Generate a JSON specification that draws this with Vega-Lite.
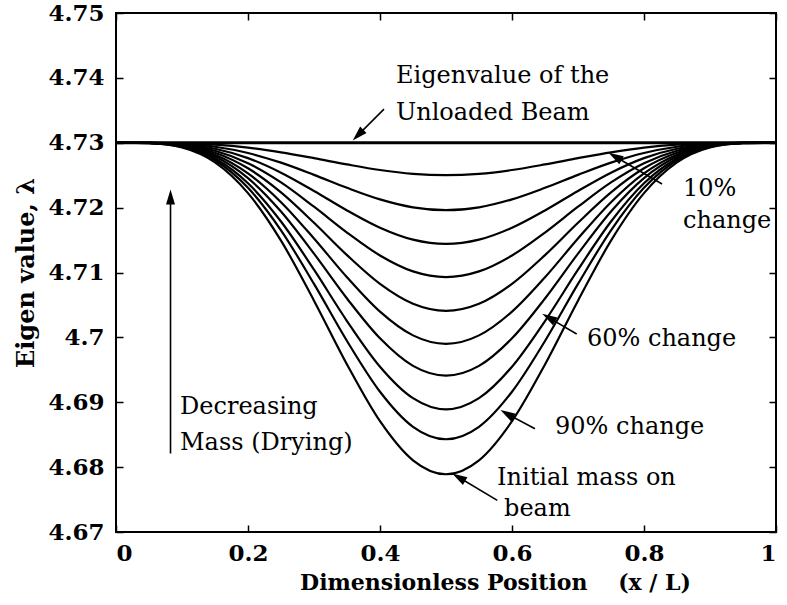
{
  "$schema": "https://vega.github.io/schema/vega-lite/v6.json",
  "width": 660,
  "height": 519,
  "autosize": {"type": "none"},
  "padding": {"left": 116, "top": 13, "right": 11, "bottom": 73},
  "config": {
    "font": "DejaVu Serif",
    "view": {"stroke": "black", "strokeWidth": 2},
    "axis": {"grid": false, "domain": false, "tickColor": "black", "tickWidth": 1.5, "labelColor": "black", "titleColor": "black"}
  },
  "datasets": {
    "curves": [
      {"c":1,"x":0,"y":4.73},{"c":1,"x":0.05,"y":4.72999},{"c":1,"x":0.1,"y":4.72993},{"c":1,"x":0.15,"y":4.7297},{"c":1,"x":0.2,"y":4.72924},{"c":1,"x":0.25,"y":4.72852},{"c":1,"x":0.3,"y":4.72762},{"c":1,"x":0.35,"y":4.72666},{"c":1,"x":0.4,"y":4.7258},{"c":1,"x":0.45,"y":4.72521},{"c":1,"x":0.5,"y":4.725},{"c":1,"x":0.55,"y":4.72521},{"c":1,"x":0.6,"y":4.7258},{"c":1,"x":0.65,"y":4.72666},{"c":1,"x":0.7,"y":4.72762},{"c":1,"x":0.75,"y":4.72852},{"c":1,"x":0.8,"y":4.72924},{"c":1,"x":0.85,"y":4.7297},{"c":1,"x":0.9,"y":4.72993},{"c":1,"x":0.95,"y":4.72999},{"c":1,"x":1,"y":4.73},
      {"c":2,"x":0,"y":4.73},{"c":2,"x":0.05,"y":4.72999},{"c":2,"x":0.1,"y":4.72985},{"c":2,"x":0.15,"y":4.72938},{"c":2,"x":0.2,"y":4.72842},{"c":2,"x":0.25,"y":4.72693},{"c":2,"x":0.3,"y":4.72505},{"c":2,"x":0.35,"y":4.72305},{"c":2,"x":0.4,"y":4.72127},{"c":2,"x":0.45,"y":4.72004},{"c":2,"x":0.5,"y":4.7196},{"c":2,"x":0.55,"y":4.72004},{"c":2,"x":0.6,"y":4.72127},{"c":2,"x":0.65,"y":4.72305},{"c":2,"x":0.7,"y":4.72505},{"c":2,"x":0.75,"y":4.72693},{"c":2,"x":0.8,"y":4.72842},{"c":2,"x":0.85,"y":4.72938},{"c":2,"x":0.9,"y":4.72985},{"c":2,"x":0.95,"y":4.72999},{"c":2,"x":1,"y":4.73},
      {"c":3,"x":0,"y":4.73},{"c":3,"x":0.05,"y":4.72998},{"c":3,"x":0.1,"y":4.72978},{"c":3,"x":0.15,"y":4.72907},{"c":3,"x":0.2,"y":4.72763},{"c":3,"x":0.25,"y":4.72539},{"c":3,"x":0.3,"y":4.72257},{"c":3,"x":0.35,"y":4.71957},{"c":3,"x":0.4,"y":4.7169},{"c":3,"x":0.45,"y":4.71506},{"c":3,"x":0.5,"y":4.7144},{"c":3,"x":0.55,"y":4.71506},{"c":3,"x":0.6,"y":4.7169},{"c":3,"x":0.65,"y":4.71957},{"c":3,"x":0.7,"y":4.72257},{"c":3,"x":0.75,"y":4.72539},{"c":3,"x":0.8,"y":4.72763},{"c":3,"x":0.85,"y":4.72907},{"c":3,"x":0.9,"y":4.72978},{"c":3,"x":0.95,"y":4.72998},{"c":3,"x":1,"y":4.73},
      {"c":4,"x":0,"y":4.73},{"c":4,"x":0.05,"y":4.72998},{"c":4,"x":0.1,"y":4.72971},{"c":4,"x":0.15,"y":4.72877},{"c":4,"x":0.2,"y":4.72685},{"c":4,"x":0.25,"y":4.72389},{"c":4,"x":0.3,"y":4.72014},{"c":4,"x":0.35,"y":4.71616},{"c":4,"x":0.4,"y":4.71262},{"c":4,"x":0.45,"y":4.71017},{"c":4,"x":0.5,"y":4.7093},{"c":4,"x":0.55,"y":4.71017},{"c":4,"x":0.6,"y":4.71262},{"c":4,"x":0.65,"y":4.71616},{"c":4,"x":0.7,"y":4.72014},{"c":4,"x":0.75,"y":4.72389},{"c":4,"x":0.8,"y":4.72685},{"c":4,"x":0.85,"y":4.72877},{"c":4,"x":0.9,"y":4.72971},{"c":4,"x":0.95,"y":4.72998},{"c":4,"x":1,"y":4.73},
      {"c":5,"x":0,"y":4.73},{"c":5,"x":0.05,"y":4.72997},{"c":5,"x":0.1,"y":4.72963},{"c":5,"x":0.15,"y":4.72846},{"c":5,"x":0.2,"y":4.72606},{"c":5,"x":0.25,"y":4.72235},{"c":5,"x":0.3,"y":4.71767},{"c":5,"x":0.35,"y":4.71268},{"c":5,"x":0.4,"y":4.70825},{"c":5,"x":0.45,"y":4.70519},{"c":5,"x":0.5,"y":4.7041},{"c":5,"x":0.55,"y":4.70519},{"c":5,"x":0.6,"y":4.70825},{"c":5,"x":0.65,"y":4.71268},{"c":5,"x":0.7,"y":4.71767},{"c":5,"x":0.75,"y":4.72235},{"c":5,"x":0.8,"y":4.72606},{"c":5,"x":0.85,"y":4.72846},{"c":5,"x":0.9,"y":4.72963},{"c":5,"x":0.95,"y":4.72997},{"c":5,"x":1,"y":4.73},
      {"c":6,"x":0,"y":4.73},{"c":6,"x":0.05,"y":4.72997},{"c":6,"x":0.1,"y":4.72956},{"c":6,"x":0.15,"y":4.72816},{"c":6,"x":0.2,"y":4.72528},{"c":6,"x":0.25,"y":4.72084},{"c":6,"x":0.3,"y":4.71524},{"c":6,"x":0.35,"y":4.70927},{"c":6,"x":0.4,"y":4.70397},{"c":6,"x":0.45,"y":4.70031},{"c":6,"x":0.5,"y":4.699},{"c":6,"x":0.55,"y":4.70031},{"c":6,"x":0.6,"y":4.70397},{"c":6,"x":0.65,"y":4.70927},{"c":6,"x":0.7,"y":4.71524},{"c":6,"x":0.75,"y":4.72084},{"c":6,"x":0.8,"y":4.72528},{"c":6,"x":0.85,"y":4.72816},{"c":6,"x":0.9,"y":4.72956},{"c":6,"x":0.95,"y":4.72997},{"c":6,"x":1,"y":4.73},
      {"c":7,"x":0,"y":4.73},{"c":7,"x":0.05,"y":4.72996},{"c":7,"x":0.1,"y":4.72949},{"c":7,"x":0.15,"y":4.72787},{"c":7,"x":0.2,"y":4.72454},{"c":7,"x":0.25,"y":4.7194},{"c":7,"x":0.3,"y":4.7129},{"c":7,"x":0.35,"y":4.70599},{"c":7,"x":0.4,"y":4.69985},{"c":7,"x":0.45,"y":4.69561},{"c":7,"x":0.5,"y":4.6941},{"c":7,"x":0.55,"y":4.69561},{"c":7,"x":0.6,"y":4.69985},{"c":7,"x":0.65,"y":4.70599},{"c":7,"x":0.7,"y":4.7129},{"c":7,"x":0.75,"y":4.7194},{"c":7,"x":0.8,"y":4.72454},{"c":7,"x":0.85,"y":4.72787},{"c":7,"x":0.9,"y":4.72949},{"c":7,"x":0.95,"y":4.72996},{"c":7,"x":1,"y":4.73},
      {"c":8,"x":0,"y":4.73},{"c":8,"x":0.05,"y":4.72996},{"c":8,"x":0.1,"y":4.72942},{"c":8,"x":0.15,"y":4.72756},{"c":8,"x":0.2,"y":4.72375},{"c":8,"x":0.25,"y":4.71786},{"c":8,"x":0.3,"y":4.71043},{"c":8,"x":0.35,"y":4.70252},{"c":8,"x":0.4,"y":4.69548},{"c":8,"x":0.45,"y":4.69063},{"c":8,"x":0.5,"y":4.6889},{"c":8,"x":0.55,"y":4.69063},{"c":8,"x":0.6,"y":4.69548},{"c":8,"x":0.65,"y":4.70252},{"c":8,"x":0.7,"y":4.71043},{"c":8,"x":0.75,"y":4.71786},{"c":8,"x":0.8,"y":4.72375},{"c":8,"x":0.85,"y":4.72756},{"c":8,"x":0.9,"y":4.72942},{"c":8,"x":0.95,"y":4.72996},{"c":8,"x":1,"y":4.73},
      {"c":9,"x":0,"y":4.73},{"c":9,"x":0.05,"y":4.72995},{"c":9,"x":0.1,"y":4.72935},{"c":9,"x":0.15,"y":4.7273},{"c":9,"x":0.2,"y":4.72305},{"c":9,"x":0.25,"y":4.7165},{"c":9,"x":0.3,"y":4.70824},{"c":9,"x":0.35,"y":4.69944},{"c":9,"x":0.4,"y":4.69162},{"c":9,"x":0.45,"y":4.68622},{"c":9,"x":0.5,"y":4.6843},{"c":9,"x":0.55,"y":4.68622},{"c":9,"x":0.6,"y":4.69162},{"c":9,"x":0.65,"y":4.69944},{"c":9,"x":0.7,"y":4.70824},{"c":9,"x":0.75,"y":4.7165},{"c":9,"x":0.8,"y":4.72305},{"c":9,"x":0.85,"y":4.7273},{"c":9,"x":0.9,"y":4.72935},{"c":9,"x":0.95,"y":4.72995},{"c":9,"x":1,"y":4.73},
      {"c":10,"x":0,"y":4.73},{"c":10,"x":0.05,"y":4.72995},{"c":10,"x":0.1,"y":4.72928},{"c":10,"x":0.15,"y":4.72697},{"c":10,"x":0.2,"y":4.72223},{"c":10,"x":0.25,"y":4.71491},{"c":10,"x":0.3,"y":4.70566},{"c":10,"x":0.35,"y":4.69583},{"c":10,"x":0.4,"y":4.68708},{"c":10,"x":0.45,"y":4.68105},{"c":10,"x":0.5,"y":4.6789},{"c":10,"x":0.55,"y":4.68105},{"c":10,"x":0.6,"y":4.68708},{"c":10,"x":0.65,"y":4.69583},{"c":10,"x":0.7,"y":4.70566},{"c":10,"x":0.75,"y":4.71491},{"c":10,"x":0.8,"y":4.72223},{"c":10,"x":0.85,"y":4.72697},{"c":10,"x":0.9,"y":4.72928},{"c":10,"x":0.95,"y":4.72995},{"c":10,"x":1,"y":4.73}
    ],
    "unloaded": [{"x": 0, "y": 4.73}, {"x": 1, "y": 4.73}],
    "labels": [
      {"t": "Eigenvalue of the", "x": 0.4242, "y": 4.73918},
      {"t": "Unloaded Beam", "x": 0.4242, "y": 4.73349},
      {"t": "10%", "x": 0.8591, "y": 4.7218},
      {"t": "change", "x": 0.8591, "y": 4.71692},
      {"t": "60% change", "x": 0.7136, "y": 4.69872},
      {"t": "90% change", "x": 0.6652, "y": 4.68514},
      {"t": "Initial mass on", "x": 0.5773, "y": 4.67718},
      {"t": "beam", "x": 0.5879, "y": 4.67242},
      {"t": "Decreasing", "x": 0.097, "y": 4.68826},
      {"t": "Mass (Drying)", "x": 0.097, "y": 4.68257}
    ],
    "arrows": [
      {"g": "a", "x": 0.4061, "y": 4.73518, "x2": 0.3667, "y2": 4.73118},
      {"g": "b", "x": 0.8273, "y": 4.72365, "x2": 0.7561, "y2": 4.72788},
      {"g": "b", "x": 0.698, "y": 4.70052, "x2": 0.6556, "y2": 4.70305},
      {"g": "b", "x": 0.6348, "y": 4.68591, "x2": 0.5923, "y2": 4.68822},
      {"g": "b", "x": 0.5777, "y": 4.67488, "x2": 0.5192, "y2": 4.67843},
      {"g": "c", "x": 0.0826, "y": 4.68211, "x2": 0.0826, "y2": 4.72165}
    ]
  },
  "resolve": {"axis": {"x": "independent", "y": "independent"}},
  "layer": [
    {
      "data": {"name": "curves"},
      "mark": {"type": "line", "color": "black", "strokeWidth": 2.2, "interpolate": "monotone"},
      "encoding": {
        "x": {"field": "x", "type": "quantitative", "scale": {"domain": [0, 1], "nice": false, "zero": false},
          "axis": {"orient": "bottom", "values": [0, 0.2, 0.4, 0.6, 0.8, 1], "format": "~g", "tickSize": -7, "labelPadding": 17, "labelDx": 4,
            "labelFontWeight": "bold", "labelFontSize": 23,
            "title": "Dimensionless Position\u00a0\u00a0\u00a0\u00a0(x / L)", "titleFontWeight": "bold", "titleFontSize": 22,
            "titleX": 379, "titleY": 57, "titleBaseline": "alphabetic", "titleAlign": "center"}},
        "y": {"field": "y", "type": "quantitative", "scale": {"domain": [4.67, 4.75], "nice": false, "zero": false},
          "axis": {"orient": "left", "values": [4.67, 4.68, 4.69, 4.7, 4.71, 4.72, 4.73, 4.74, 4.75], "format": ".3~r", "tickSize": -7, "labelPadding": 19,
            "labelFontWeight": "bold", "labelFontSize": 23,
            "title": "Eigen value, λ", "titleFontWeight": "bold", "titleFontSize": 24,
            "titleX": -83, "titleY": 259.5, "titleBaseline": "alphabetic", "titleAlign": "center", "titleAngle": -90}},
        "detail": {"field": "c", "type": "nominal"}
      }
    },
    {
      "data": {"name": "unloaded"},
      "mark": {"type": "line", "color": "black", "strokeWidth": 3},
      "encoding": {
        "x": {"field": "x", "type": "quantitative", "axis": {"orient": "top", "values": [0, 0.2, 0.4, 0.6, 0.8, 1], "labels": false, "tickSize": -7, "title": null}},
        "y": {"field": "y", "type": "quantitative", "axis": {"orient": "right", "values": [4.67, 4.68, 4.69, 4.7, 4.71, 4.72, 4.73, 4.74, 4.75], "labels": false, "tickSize": -7, "title": null}}
      }
    },
    {
      "data": {"name": "arrows"},
      "mark": {"type": "rule", "color": "black", "strokeWidth": 1.6},
      "encoding": {
        "x": {"field": "x", "type": "quantitative", "axis": null},
        "y": {"field": "y", "type": "quantitative", "axis": null},
        "x2": {"field": "x2"},
        "y2": {"field": "y2"}
      }
    },
    {
      "data": {"name": "arrows"},
      "transform": [{"filter": "datum.g === 'a'"}],
      "mark": {"type": "point", "shape": "M0,-1L0.6,1L-0.6,1Z", "filled": true, "color": "black", "opacity": 1, "size": 225, "angle": 225},
      "encoding": {"x": {"field": "x2", "type": "quantitative", "axis": null}, "y": {"field": "y2", "type": "quantitative", "axis": null}}
    },
    {
      "data": {"name": "arrows"},
      "transform": [{"filter": "datum.g === 'b'"}],
      "mark": {"type": "point", "shape": "M0,-1L0.6,1L-0.6,1Z", "filled": true, "color": "black", "opacity": 1, "size": 225, "angle": 300},
      "encoding": {"x": {"field": "x2", "type": "quantitative", "axis": null}, "y": {"field": "y2", "type": "quantitative", "axis": null}}
    },
    {
      "data": {"name": "arrows"},
      "transform": [{"filter": "datum.g === 'c'"}],
      "mark": {"type": "point", "shape": "M0,-1L0.6,1L-0.6,1Z", "filled": true, "color": "black", "opacity": 1, "size": 225, "angle": 0},
      "encoding": {"x": {"field": "x2", "type": "quantitative", "axis": null}, "y": {"field": "y2", "type": "quantitative", "axis": null}}
    },
    {
      "data": {"name": "labels"},
      "mark": {"type": "text", "align": "left", "baseline": "alphabetic", "fontSize": 24, "color": "black"},
      "encoding": {
        "x": {"field": "x", "type": "quantitative", "axis": null},
        "y": {"field": "y", "type": "quantitative", "axis": null},
        "text": {"field": "t"}
      }
    }
  ]
}
